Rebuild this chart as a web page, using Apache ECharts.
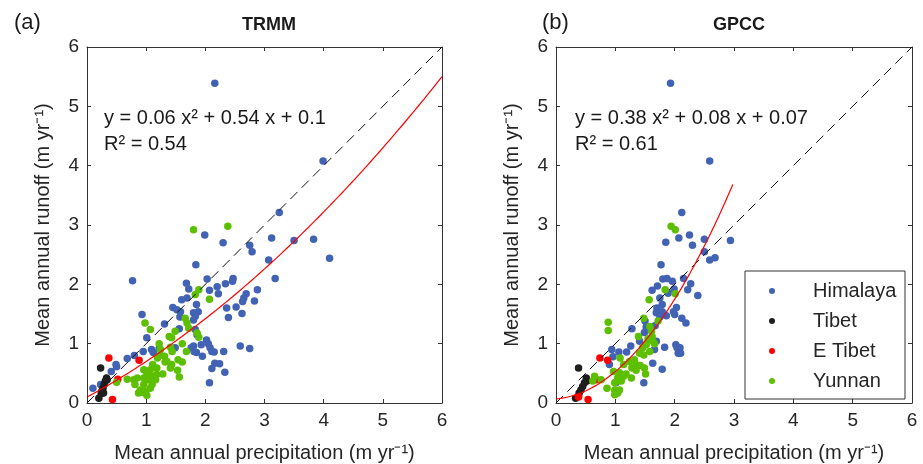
<!DOCTYPE html>
<html>
<head>
<meta charset="utf-8">
<script src="https://cdn.jsdelivr.net/npm/echarts@6/dist/echarts.min.js"></script>
<style>html,body{margin:0;padding:0;background:#fff}#c{width:923px;height:464px}</style>
</head>
<body>
<div id="c"></div>
<script>
// ---------- DATA ----------
const groups = ['Himalaya', 'Tibet', 'E Tibet', 'Yunnan'];
const ticks = [0, 1, 2, 3, 4, 5, 6];

// Panel (a) TRMM  [precipitation, runoff]
const trmmHimalaya = [[2.16,5.39],[3.99,4.08],[3.25,3.21],[3.12,2.78],[3.50,2.74],[3.83,2.76],[4.10,2.44],[2.75,2.66],[2.79,2.55],[3.07,2.41],[3.18,2.10],[2.30,2.70],[1.99,2.83],[1.84,2.33],[0.77,2.06],[2.03,2.09],[2.47,2.10],[2.46,2.05],[2.34,2.01],[2.20,1.96],[2.07,1.90],[2.22,1.84],[2.88,1.91],[2.69,1.84],[2.65,1.77],[2.63,1.71],[2.83,1.72],[2.52,1.62],[2.36,1.60],[2.62,1.51],[2.39,1.44],[1.68,2.02],[1.72,1.92],[1.69,1.77],[1.60,1.74],[1.85,1.66],[1.45,1.61],[1.52,1.57],[1.58,1.54],[1.80,1.52],[1.88,1.54],[1.83,1.46],[1.57,1.45],[1.80,1.40],[0.93,1.49],[1.31,1.33],[1.56,1.25],[1.83,1.24],[1.86,1.15],[1.01,1.10],[2.02,1.06],[2.05,1.00],[1.93,0.98],[1.80,0.96],[1.85,0.85],[1.76,0.93],[2.08,0.93],[2.11,0.87],[2.15,0.86],[2.31,0.87],[1.95,0.79],[2.59,0.96],[2.75,0.92],[1.81,0.87],[1.49,0.93],[0.95,0.87],[1.09,0.90],[1.12,0.85],[0.80,0.80],[0.68,0.75],[0.49,0.65],[0.50,0.61],[0.41,0.53],[2.16,0.67],[2.24,0.66],[2.11,0.58],[2.33,0.52],[2.07,0.34],[0.10,0.25],[0.23,0.31],[1.22,0.92]];
const trmmTibet = [[0.23,0.59],[0.20,0.08],[0.33,0.42],[0.31,0.37],[0.29,0.31],[0.27,0.25],[0.25,0.20],[0.24,0.16],[0.28,0.17],[0.34,0.39]];
const trmmETibet = [[0.37,0.76],[0.88,0.72],[0.52,0.40],[0.43,0.06]];
const trmmYunnan = [[1.80,2.92],[2.38,2.98],[1.89,1.91],[1.83,1.83],[2.07,1.75],[1.66,1.43],[1.69,1.35],[1.72,1.26],[1.86,1.18],[1.89,1.11],[0.98,1.35],[1.07,1.24],[1.49,1.21],[1.39,1.12],[1.43,1.10],[1.22,1.00],[1.61,1.00],[1.41,0.94],[1.68,0.87],[1.44,0.87],[1.31,0.79],[1.19,0.76],[1.24,0.81],[1.54,0.73],[1.61,0.69],[1.43,0.65],[1.32,0.69],[1.41,0.59],[1.53,0.55],[1.28,0.49],[1.56,0.44],[1.18,0.59],[1.11,0.65],[1.07,0.56],[1.01,0.51],[0.96,0.56],[1.10,0.45],[1.16,0.39],[1.04,0.39],[0.96,0.42],[0.85,0.42],[0.79,0.39],[0.81,0.31],[0.90,0.22],[0.94,0.18],[1.01,0.13],[0.99,0.20],[1.07,0.25],[0.96,0.31],[0.68,0.40],[0.50,0.35],[1.10,0.31],[0.87,0.17],[1.24,0.90],[1.35,0.70],[1.18,0.48]];

// Panel (b) GPCC
const gpccHimalaya = [[1.93,5.39],[2.59,4.08],[2.12,3.21],[1.85,2.71],[2.07,2.78],[2.25,2.83],[2.30,2.66],[2.50,2.76],[2.50,2.55],[2.59,2.41],[2.68,2.45],[2.94,2.74],[1.77,2.33],[1.80,2.09],[1.87,2.10],[1.96,2.05],[2.15,2.10],[2.27,2.01],[1.71,1.97],[1.62,1.90],[1.89,1.85],[1.99,1.92],[2.22,1.91],[2.39,1.81],[1.75,1.77],[1.79,1.66],[2.03,1.61],[1.70,1.60],[1.69,1.52],[1.79,1.54],[1.98,1.54],[2.00,1.49],[1.86,1.47],[1.75,1.45],[2.12,1.43],[2.19,1.35],[1.50,1.38],[1.67,1.30],[1.52,1.28],[1.28,1.25],[1.49,1.19],[1.57,1.08],[1.69,1.04],[1.66,0.90],[1.83,0.94],[2.02,0.98],[2.04,0.93],[2.09,0.93],[2.06,0.84],[2.10,0.84],[1.26,0.96],[1.19,0.86],[1.06,0.86],[0.94,0.90],[0.96,0.78],[0.90,0.65],[1.63,0.67],[1.79,0.57],[1.48,0.34],[1.07,0.39],[1.01,0.34],[1.41,1.04]];
const gpccTibet = [[0.38,0.59],[0.33,0.08],[0.51,0.42],[0.48,0.34],[0.45,0.28],[0.42,0.22],[0.39,0.17],[0.38,0.12],[0.52,0.37]];
const gpccETibet = [[0.74,0.76],[0.87,0.72],[0.68,0.39],[0.38,0.10],[0.54,0.06]];
const gpccYunnan = [[1.94,2.98],[2.01,2.92],[1.84,1.91],[2.01,1.84],[1.57,1.74],[1.48,1.43],[1.72,1.38],[0.88,1.36],[0.88,1.22],[1.39,1.12],[1.58,1.29],[1.61,1.21],[1.62,1.12],[1.55,1.08],[1.63,1.04],[1.66,1.00],[1.52,0.98],[1.46,0.93],[1.41,0.84],[1.48,0.81],[1.58,0.87],[1.08,0.76],[1.32,0.73],[1.24,0.70],[1.14,0.65],[1.35,0.65],[1.28,0.59],[1.42,0.63],[1.49,0.59],[1.35,0.55],[1.51,0.49],[1.27,0.42],[1.14,0.45],[1.07,0.51],[0.97,0.53],[1.04,0.42],[1.10,0.37],[0.99,0.34],[0.86,0.25],[0.99,0.22],[1.04,0.17],[0.99,0.14],[1.07,0.22],[0.76,0.39],[0.65,0.45],[0.62,0.37],[1.18,0.49]];

// Fit coefficients [a, b, c] for y = a x^2 + b x + c, and fitted x-range
const trmmFit = [0.06, 0.54, 0.1];
const trmmFitRange = [0, 6];
const gpccFit = [0.38, 0.08, 0.07];
const gpccFitRange = [0, 2.98];
const oneToOne = [[0, 0], [6, 6]];

// ---------- BUILD ----------
const colors = ['#4262b4', '#1e1e1e', '#ff0000', '#5cbf00'];
const FONT = '"Liberation Sans", Arial, Helvetica, sans-serif';
const axisCol = '#333333';

function fitCurve(coef, range) {
  const pts = [];
  const n = 120;
  for (let i = 0; i <= n; i++) {
    const x = range[0] + (range[1] - range[0]) * i / n;
    pts.push([x, coef[0] * x * x + coef[1] * x + coef[2]]);
  }
  return pts;
}

const grids = [
  { left: 87, top: 47, width: 355, height: 356, outerBoundsMode: 'none', containLabel: false },
  { left: 556, top: 47, width: 356, height: 356, outerBoundsMode: 'none', containLabel: false }
];

const xAxis = [], yAxis = [];
grids.forEach((g, gi) => {
  const common = {
    gridIndex: gi, type: 'value', min: 0, max: 6, interval: 1,
    splitLine: { show: false },
    axisLine: { show: true, onZero: false, lineStyle: { color: axisCol, width: 1 } },
    axisTick: { show: true, inside: true, length: 4, lineStyle: { color: axisCol } }
  };
  xAxis.push(Object.assign({}, common, {
    position: 'bottom',
    name: 'Mean annual precipitation (m yr\u207B\u00B9)',
    nameLocation: 'middle', nameGap: 40,
    nameTextStyle: { fontFamily: FONT, fontSize: 20, color: '#262626' },
    axisLabel: { fontFamily: FONT, fontSize: 19, color: '#262626', margin: 8 }
  }));
  xAxis.push(Object.assign({}, common, { position: 'top', axisLabel: { show: false } }));
  yAxis.push(Object.assign({}, common, {
    position: 'left',
    name: 'Mean annual runoff (m yr\u207B\u00B9)',
    nameLocation: 'middle', nameGap: 34,
    nameTextStyle: { fontFamily: FONT, fontSize: 20, color: '#262626' },
    axisLabel: { fontFamily: FONT, fontSize: 19, color: '#262626', margin: 8 }
  }));
  yAxis.push(Object.assign({}, common, { position: 'right', axisLabel: { show: false } }));
});

const panels = [
  { sets: [trmmHimalaya, trmmTibet, trmmETibet, trmmYunnan], fit: fitCurve(trmmFit, trmmFitRange) },
  { sets: [gpccHimalaya, gpccTibet, gpccETibet, gpccYunnan], fit: fitCurve(gpccFit, gpccFitRange) }
];

const series = [];
panels.forEach((p, pi) => {
  const xi = pi * 2, yi = pi * 2;
  series.push({
    type: 'line', xAxisIndex: xi, yAxisIndex: yi, data: oneToOne,
    symbol: 'none', silent: true, z: 3,
    lineStyle: { color: '#111', width: 1, type: [10, 6] }
  });
  p.sets.forEach((d, k) => {
    series.push({
      name: groups[k], type: 'scatter', xAxisIndex: xi, yAxisIndex: yi, data: d,
      symbol: 'circle', symbolSize: 7.5, z: 2,
      itemStyle: { color: colors[k], opacity: 1 }
    });
  });
  series.push({
    type: 'line', xAxisIndex: xi, yAxisIndex: yi, data: p.fit,
    symbol: 'none', silent: true, z: 4, smooth: false,
    lineStyle: { color: '#ff0000', width: 1.2 }
  });
});

const eqStyle = { fontFamily: FONT, fontSize: 20, fill: '#1a1a1a' };
const option = {
  backgroundColor: '#ffffff',
  animation: false,
  color: colors,
  grid: grids,
  xAxis: xAxis,
  yAxis: yAxis,
  series: series,
  legend: {
    data: groups.map(g => ({ name: g, icon: 'circle' })),
    orient: 'vertical',
    left: 764, top: 275,
    itemWidth: 20, itemHeight: 6,
    itemGap: 8,
    z: 10,
    textStyle: { fontFamily: FONT, fontSize: 20, color: '#262626', padding: [0, 0, 0, 26], lineHeight: 22 },
    selectedMode: false
  },
  title: [
    { text: '(a)', left: 9, top: 7, textStyle: { fontFamily: FONT, fontSize: 22, fontWeight: 'normal', color: '#1a1a1a' } },
    { text: 'TRMM', left: 264, top: 11, textAlign: 'center', textStyle: { fontFamily: FONT, fontSize: 18, fontWeight: 'bold', color: '#1a1a1a' } },
    { text: '(b)', left: 537, top: 7, textStyle: { fontFamily: FONT, fontSize: 22, fontWeight: 'normal', color: '#1a1a1a' } },
    { text: 'GPCC', left: 734, top: 11, textAlign: 'center', textStyle: { fontFamily: FONT, fontSize: 18, fontWeight: 'bold', color: '#1a1a1a' } }
  ],
  graphic: [
    { type: 'text', left: 104, top: 108, z: 8, style: Object.assign({ text: 'y = 0.06 x\u00B2 + 0.54 x + 0.1' }, eqStyle) },
    { type: 'text', left: 104, top: 134, z: 8, style: Object.assign({ text: 'R\u00B2 = 0.54' }, eqStyle) },
    { type: 'text', left: 575, top: 108, z: 8, style: Object.assign({ text: 'y = 0.38 x\u00B2 + 0.08 x + 0.07' }, eqStyle) },
    { type: 'text', left: 575, top: 134, z: 8, style: Object.assign({ text: 'R\u00B2 = 0.61' }, eqStyle) },
    { type: 'rect', shape: { x: 745, y: 271, width: 160, height: 128 }, style: { fill: '#fff', stroke: '#333', lineWidth: 1 }, z: 3 }
  ]
};

const chart = echarts.init(document.getElementById('c'), null, { renderer: 'canvas' });
chart.setOption(option);
</script>
</body>
</html>
